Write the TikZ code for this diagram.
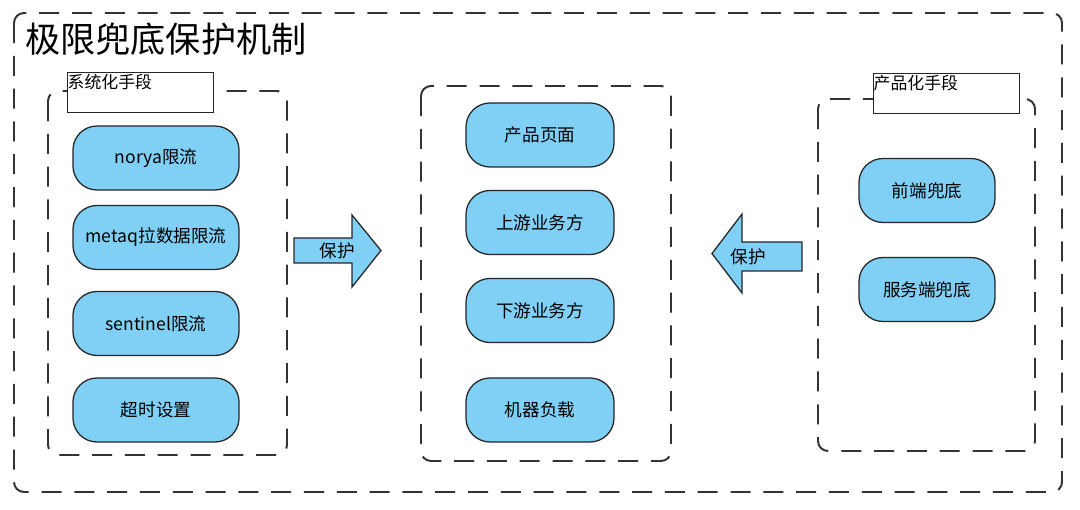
\documentclass[tikz,border=0pt]{standalone}
\usepackage{fontspec}
\setmainfont{Noto Sans CJK SC}
\definecolor{pillblue}{RGB}{128,207,245}
\definecolor{dashgray}{RGB}{51,51,51}

\tikzset{
  grpbox/.style={draw=dashgray, line width=1.4pt, rounded corners=0.25cm,
    dash pattern=on 0.5cm off 0.32cm},
  pill/.style={draw=black!85, line width=0.9pt, fill=pillblue,
    rounded corners=0.6cm, font=\fontsize{12.5}{14}\selectfont},
  lblbox/.style={draw=black!85, line width=0.9pt, fill=white, anchor=north west,
    inner sep=0pt, text width=3.65cm, text height=0.4cm, text depth=0.6cm,
    font=\fontsize{12}{14}\selectfont},
  blockarrow/.style={draw=black!85, line width=0.9pt, fill=pillblue},
  arrowlbl/.style={font=\fontsize{12.5}{14}\selectfont}
}

\begin{document}
\begin{tikzpicture}[x=0.025cm,y=-0.025cm]
\useasboundingbox (0,0) rectangle (1080,510);

% outer frame and title
\draw[grpbox] (14,13) rectangle (1062,492);
\node[anchor=west, font=\fontsize{25}{28}\selectfont, inner sep=0pt] (title) at (25,39) {极限兜底保护机制};

% groups
\draw[grpbox] (48,91) rectangle (287,455);
\draw[grpbox] (421,86) rectangle (671,461);
\draw[grpbox] (818,99) rectangle (1035,451);

\node[lblbox] (syslbl) at (67,72) {系统化手段};
\node[lblbox] (prodlbl) at (873,73) {产品化手段};

% left
\node[pill, minimum width=4.15cm, minimum height=1.6cm] (norya) at (156,158) {norya限流};
\node[pill, minimum width=4.15cm, minimum height=1.6cm] (metaq) at (156,237.5) {metaq拉数据限流};
\node[pill, minimum width=4.15cm, minimum height=1.6cm] (sentinel) at (156,323.5) {sentinel限流};
\node[pill, minimum width=4.15cm, minimum height=1.6cm] (timeout) at (156,410) {超时设置};

% middle
\node[pill, minimum width=3.7cm, minimum height=1.6cm] (page) at (540,135) {产品页面};
\node[pill, minimum width=3.7cm, minimum height=1.6cm] (upstream) at (540,222.5) {上游业务方};
\node[pill, minimum width=3.7cm, minimum height=1.6cm] (downstream) at (540,310.5) {下游业务方};
\node[pill, minimum width=3.7cm, minimum height=1.6cm] (load) at (540,410) {机器负载};

% right
\node[pill, minimum width=3.4cm, minimum height=1.6cm] (frontend) at (927,190.5) {前端兜底};
\node[pill, minimum width=3.4cm, minimum height=1.6cm] (server) at (927,289.5) {服务端兜底};

% arrows
\draw[blockarrow] (294,238) -- (352,238) -- (352,215) -- (381,250.5)
  -- (352,287) -- (352,263) -- (294,263) -- cycle;
\node[arrowlbl] (protL) at (337,251) {保护};

\draw[blockarrow] (802,242) -- (742,242) -- (742,214) -- (712,253.5)
  -- (742,293) -- (742,271) -- (802,271) -- cycle;
\node[arrowlbl] (protR) at (748,257) {保护};
\end{tikzpicture}
\end{document}
